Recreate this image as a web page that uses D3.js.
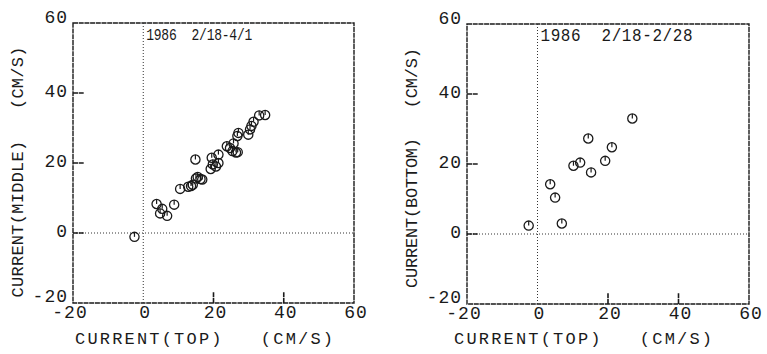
<!DOCTYPE html>
<html>
<head>
<meta charset="utf-8">
<script src="https://cdn.jsdelivr.net/npm/d3@7"></script>
<style>
  body { margin: 0; background: #fff; }
  text { font-family: "Liberation Mono", "DejaVu Sans Mono", monospace; fill: #1a1a1a; }
</style>
</head>
<body>
<script>
// current (top) vs current (middle), 1986 2/18-4/1
const topA = [-2.5, 3.8, 4.8, 5.4, 6.8, 8.8, 10.5, 12.8, 13.6, 14.1, 15.0, 15.5, 16.3, 16.8, 14.85,
    19.2, 19.8, 19.5, 20.7, 21.4, 21.4, 23.8, 24.7, 25.7, 25.4, 26.4, 26.9, 26.8, 27.1,
    29.9, 30.4, 30.8, 31.4, 33.0, 34.7]
const middleA = [-1.1, 8.3, 5.6, 6.9, 4.9, 8.1, 12.6, 13.2, 13.4, 13.8, 15.6, 16.0, 15.4, 15.3, 21.0,
    18.3, 19.6, 21.5, 19.0, 20.0, 22.4, 24.8, 24.3, 25.6, 23.4, 23.0, 23.1, 27.7, 28.6,
    28.1, 29.6, 30.6, 31.8, 33.6, 33.7]

// current (top) vs current (bottom), 1986 2/18-2/28
const topB = [-2.5, 3.6, 5.0, 6.9, 10.2, 12.1, 14.4, 15.2, 19.2, 21.1, 26.9]
const bottomB = [2.4, 14.2, 10.4, 3.0, 19.5, 20.4, 27.3, 17.6, 20.9, 24.8, 33.0]

const xTicks = [-20, 0, 20, 40, 60]
const yTicks = [-20, 0, 20, 40, 60]

const m = { width: 767, height: 354 }
const nb = '\u00a0'

const svg = d3.select('body').append('svg')
    .attr('width', m.width)
    .attr('height', m.height)

function panel(opt) {
    const x = d3.scaleLinear().domain([-20, 60]).range([opt.left, opt.right])
    const y = d3.scaleLinear().domain([-20, 60]).range([opt.bottom, opt.top])
    const g = svg.append('g')

    // frame (plotter pen: nearly solid)
    g.append('rect')
        .attr('x', x(-20)).attr('y', y(60))
        .attr('width', x(60) - x(-20)).attr('height', y(-20) - y(60))
        .attr('fill', 'none').attr('stroke', '#1a1a1a').attr('stroke-width', 1.4)
        .attr('stroke-dasharray', '5,0.7')

    // dotted zero lines
    g.append('line')
        .attr('x1', x(0)).attr('x2', x(0)).attr('y1', y(60)).attr('y2', y(-20))
        .attr('stroke', '#333').attr('stroke-width', 1).attr('stroke-dasharray', '1,2')
    g.append('line')
        .attr('x1', x(-20)).attr('x2', x(60)).attr('y1', y(0)).attr('y2', y(0))
        .attr('stroke', '#333').attr('stroke-width', 1).attr('stroke-dasharray', '1,2')

    // inward ticks
    g.selectAll('.yt').data([0, 20, 40]).enter().append('line')
        .attr('class', 'yt')
        .attr('x1', x(-20)).attr('x2', x(-20) + 11)
        .attr('y1', d => y(d)).attr('y2', d => y(d))
        .attr('stroke', '#1a1a1a').attr('stroke-width', 1.6)
        .attr('stroke-dasharray', '5,0.7')
    g.selectAll('.xt').data([20, 40]).enter().append('line')
        .attr('class', 'xt')
        .attr('x1', d => x(d)).attr('x2', d => x(d))
        .attr('y1', y(-20)).attr('y2', y(-20) - 11)
        .attr('stroke', '#1a1a1a').attr('stroke-width', 1.6)
        .attr('stroke-dasharray', '5,0.7')

    // tick labels
    g.selectAll('.yl').data(yTicks).enter().append('text')
        .attr('class', 'yl')
        .attr('x', x(-20) - 5)
        .attr('y', d => d === 60 ? y(d) : d === -20 ? y(d) - 1 : y(d) + 4)
        .attr('text-anchor', 'end')
        .attr('font-size', 18)
        .attr('letter-spacing', 1)
        .text(d => d)
    g.selectAll('.xl').data(xTicks).enter().append('text')
        .attr('class', 'xl')
        .attr('x', d => x(d) + (d === -20 ? -3 : 2))
        .attr('y', y(-20) + 15)
        .attr('text-anchor', 'middle')
        .attr('font-size', 18)
        .attr('letter-spacing', 1)
        .text(d => d)

    // axis titles
    g.append('text')
        .attr('x', opt.xTitleX).attr('y', 344)
        .attr('text-anchor', 'middle')
        .attr('font-size', 17)
        .attr('textLength', 258).attr('lengthAdjust', 'spacing')
        .text('CURRENT(TOP)' + nb + nb + nb + '(CM/S)')
    g.append('text')
        .attr('transform', 'translate(' + opt.yTitleX + ',' + opt.yTitleY + ') rotate(-90)')
        .attr('text-anchor', 'middle')
        .attr('font-size', 17)
        .attr('textLength', opt.yTitleLen).attr('lengthAdjust', 'spacing')
        .text(opt.yTitle.replace(/ /g, nb))

    // period label
    g.append('text')
        .attr('transform', 'translate(' + (x(0) + 3) + ',' + (y(60) + 17) + ') scale(1,' + opt.periodStretch + ')')
        .attr('font-size', opt.periodSize)
        .attr('textLength', opt.periodLen).attr('lengthAdjust', 'spacing')
        .text(opt.period.replace(/ /g, nb))

    // markers: circle with a short stroke from top to centre
    const pts = opt.xs.map((v, i) => [v, opt.ys[i]])
    const mk = g.selectAll('.pt').data(pts).enter().append('g')
        .attr('class', 'pt')
        .attr('transform', d => 'translate(' + x(d[0]) + ',' + y(d[1]) + ')')
    mk.append('circle')
        .attr('r', 4.6)
        .attr('fill', 'none').attr('stroke', '#1a1a1a').attr('stroke-width', 1.3)
    mk.append('line')
        .attr('x1', 0).attr('x2', 0).attr('y1', -4.6).attr('y2', 0)
        .attr('stroke', '#1a1a1a').attr('stroke-width', 1.2)
}

panel({
    left: 73, right: 354, top: 23, bottom: 303,
    xs: topA, ys: middleA,
    xTitleX: 204, yTitleX: 23, yTitleY: 172, yTitleLen: 251,
    yTitle: 'CURRENT(MIDDLE)   (CM/S)',
    period: '1986  2/18-4/1', periodLen: 106, periodSize: 13, periodStretch: 1.3
})

panel({
    left: 467, right: 749, top: 24, bottom: 304,
    xs: topB, ys: bottomB,
    xTitleX: 583, yTitleX: 417, yTitleY: 168, yTitleLen: 240,
    yTitle: 'CURRENT(BOTTOM)   (CM/S)',
    period: '1986  2/18-2/28', periodLen: 152, periodSize: 16, periodStretch: 1.1
})
</script>
</body>
</html>
